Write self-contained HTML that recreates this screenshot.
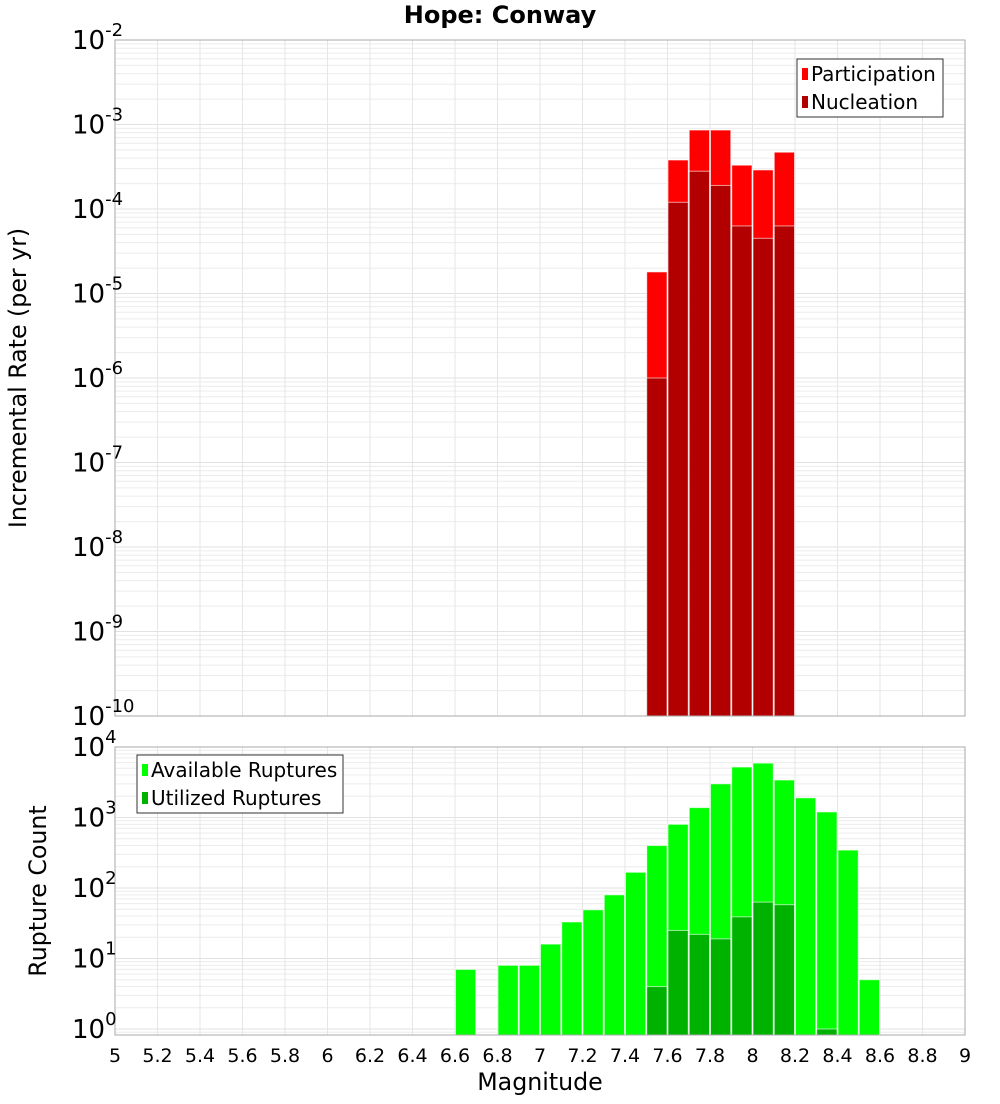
<!DOCTYPE html>
<html><head><meta charset="utf-8"><style>
body{margin:0;background:#fff;font-family:"DejaVu Sans","Liberation Sans",sans-serif}
svg text{font-family:"DejaVu Sans","Liberation Sans",sans-serif}
</style></head><body>
<svg id="c" width="1000" height="1100" xmlns="http://www.w3.org/2000/svg">
<text x="500" y="23" text-anchor="middle" font-size="24" font-weight="bold">Hope: Conway</text>
<text transform="translate(26,378) rotate(-90)" text-anchor="middle" font-size="23.7">Incremental Rate (per yr)</text>
<text transform="translate(46,891) rotate(-90)" text-anchor="middle" font-size="23.7">Rupture Count</text>
<text x="540" y="1090" text-anchor="middle" font-size="23.7">Magnitude</text>
</svg>
<script>
const binCenters=[7.55,7.65,7.75,7.85,7.95,8.05,8.15];
const participation=[1.8e-5,3.8e-4,8.6e-4,8.6e-4,3.3e-4,2.9e-4,4.7e-4];
const nucleation=[1e-6,1.2e-4,2.8e-4,1.9e-4,6.3e-5,4.5e-5,6.3e-5];
const countCenters=[6.65,6.85,6.95,7.05,7.15,7.25,7.35,7.45,7.55,7.65,7.75,7.85,7.95,8.05,8.15,8.25,8.35,8.45,8.55];
const available=[7,8,8,16,33,49,80,167,400,800,1380,3000,5200,5900,3400,1900,1200,345,5];
const utilCenters=[7.55,7.65,7.75,7.85,7.95,8.05,8.15,8.35];
const utilized=[4,25,22,19,39,63,58,1];
const xTicks=[5,5.2,5.4,5.6,5.8,6,6.2,6.4,6.6,6.8,7,7.2,7.4,7.6,7.8,8,8.2,8.4,8.6,8.8,9];
const topExps=[-10,-9,-8,-7,-6,-5,-4,-3,-2];
const botExps=[0,1,2,3,4];

const svg=document.getElementById('c');const NS='http://www.w3.org/2000/svg';
const L=115,R=965;
const xs=m=>L+(m-5)/4*(R-L);
const T1=40,B1=716,tMin=-10,tMax=-2;
const y1=v=>T1+(tMax-Math.log10(v))/(tMax-tMin)*(B1-T1);
const T2=747,B2=1035,bMin=-0.085,bMax=4.0;
const y2=v=>T2+(bMax-Math.log10(v))/(bMax-bMin)*(B2-T2);
function el(t,a,p){const e=document.createElementNS(NS,t);for(const k in a)e.setAttribute(k,a[k]);(p||svg).appendChild(e);return e;}
function grid(T,B,yf,emin,emax,lo,hi){
  const g=el('g',{});
  
  
  for(let e=emin;e<=emax;e++)for(let k=1;k<10;k++){const v=k*Math.pow(10,e);const lv=Math.log10(v);if(lv<lo||lv>hi)continue;const y=yf(v);el('line',{x1:L,x2:R,y1:y,y2:y,stroke:k==1?'#e2e2e2':'#ececec','stroke-width':1},g);}
  xTicks.forEach(t=>{const x=xs(t);el('line',{x1:x,x2:x,y1:T,y2:B,stroke:'#e6e6e6','stroke-width':1},g);});
}
grid(T1,B1,y1,-10,-3,-10,-2);
grid(T2,B2,y2,-1,3,bMin,bMax);
const bw=(R-L)/40;
function bars(cs,vals,yf,B,fill,name){
  cs.forEach((c,i)=>{const y=yf(vals[i]);const r=el('rect',{x:xs(c)-bw/2+0.5,y:y,width:bw-1,height:B-y,fill:fill,stroke:'#fff','stroke-opacity':0.6,'stroke-width':1});
  
  });
}
bars(binCenters,participation,y1,B1,'#ff0000','participation');
bars(binCenters,nucleation,y1,B1,'#b20000','nucleation');
bars(countCenters,available,y2,B2,'#00ff00','available');
bars(utilCenters,utilized,y2,B2,'#00b200','utilized');
el('rect',{x:L,y:T1,width:R-L,height:B1-T1,fill:'none',stroke:'#aaa'});
el('rect',{x:L,y:T2,width:R-L,height:B2-T2,fill:'none',stroke:'#aaa'});
function ylab(exps,yf){exps.forEach(e=>{const y=yf(Math.pow(10,e));const t=el('text',{x:72,y:y+9,'text-anchor':'start','font-size':26});


t.innerHTML='10<tspan dy="-13" font-size="18">'+e+'</tspan>';});}
ylab(topExps,y1);ylab(botExps,y2);
xTicks.forEach(t=>{const e=el('text',{x:xs(t),y:1062,'text-anchor':'middle','font-size':19});e.textContent=String(t);

});
function legend(x,y,w,items){const g=el('g',{});


el('rect',{x:x,y:y,width:w,height:58,fill:'#fff',stroke:'#333'},g);
items.forEach((it,i)=>{el('rect',{x:x+5,y:y+9+i*28,width:6,height:12,fill:it[1]},g);const t=el('text',{x:x+14,y:y+22+i*28,'font-size':20},g);t.textContent=it[0];

});}
legend(797,59,146,[['Participation','#ff0000'],['Nucleation','#b20000']]);
legend(137,755,206,[['Available Ruptures','#00ff00'],['Utilized Ruptures','#00b200']]);
</script>
</body></html>
